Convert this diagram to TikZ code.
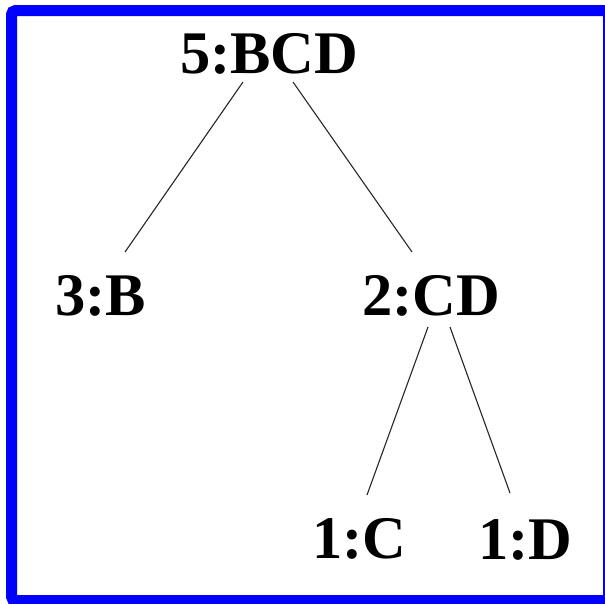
\documentclass[tikz,border=0pt]{standalone}
\usepackage{fontspec}
\setmainfont{Liberation Serif}
\usetikzlibrary{calc}
\begin{document}
\begin{tikzpicture}[x=1pt,y=-1pt,
  lbl/.style={inner sep=0pt,anchor=base west,font=\fontsize{60.5}{70}\selectfont\bfseries},
  edge/.style={line width=1.1pt,black!85}]
\useasboundingbox (0,0) rectangle (605,603);
\fill[white] (0,0) rectangle (605,603);
\begin{scope}
\clip (0,0) rectangle (605,603);
\draw[blue,line width=11.2pt,rounded corners=4pt] (11.6,10.6) rectangle (608.8,600.6);
\end{scope}
\node[lbl] (n5) at (180,73) {5:BCD};
\node[lbl] (n3) at (55,315) {3:B};
\node[lbl] (n2) at (362,315) {2:CD};
\node[lbl] (n1c) at (312,558) {1:C};
\node[lbl] (n1d) at (478,559) {1:D};
\draw[edge] ($(n5.base west)+(63,9)$) -- ($(n3.base west)+(70,-63)$);
\draw[edge] ($(n5.base west)+(113,9)$) -- ($(n2.base west)+(50,-63)$);
\draw[edge] ($(n2.base west)+(66,12)$) -- ($(n1c.base west)+(55,-63)$);
\draw[edge] ($(n2.base west)+(88,12)$) -- ($(n1d.base west)+(32,-66)$);
\end{tikzpicture}
\end{document}
